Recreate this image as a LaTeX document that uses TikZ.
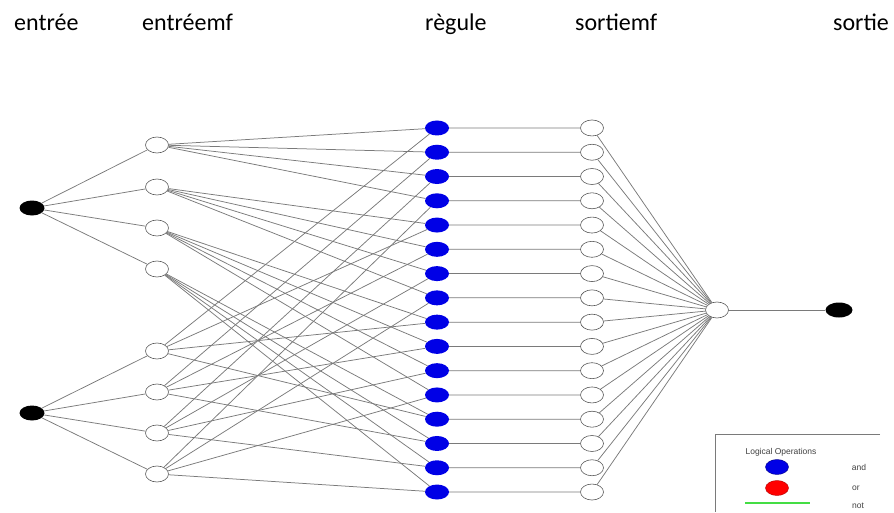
\documentclass[tikz,border=0pt]{standalone}
\usepackage{fontspec}
\setmainfont{Carlito}
\newfontfamily\legendfont{Liberation Sans}
\usetikzlibrary{shapes.geometric,backgrounds}
\definecolor{ruleBlue}{HTML}{0000E6}
\definecolor{linkGray}{HTML}{7A7A7A}
\definecolor{notGreen}{HTML}{44DD44}

\begin{document}
\begin{tikzpicture}[x=1pt,y=-1pt,
  neuron/.style={ellipse,draw=black!65,fill=white,line width=0.6pt,minimum width=23pt,minimum height=16pt,inner sep=0pt},
  inputnode/.style={ellipse,fill=black,minimum width=25pt,minimum height=15pt,inner sep=0pt},
  rulenode/.style={ellipse,fill=ruleBlue,minimum width=24pt,minimum height=15pt,inner sep=0pt},
  link/.style={draw=linkGray,line width=0.75pt},
  title/.style={font=\fontsize{24}{28}\selectfont,anchor=base west,inner sep=0pt},
  legendtext/.style={font=\legendfont\fontsize{8.5}{10}\selectfont,text=black!75,inner sep=0pt}]
  \useasboundingbox (0,0) rectangle (894,512);
  \node[title] (tIn) at (14,30) {entrée};
  \node[title] (tMf) at (142,30) {entréemf};
  \node[title] (tRule) at (425,30) {règule};
  \node[title] (tOmf) at (575,30) {sortiemf};
  \node[title] (tOut) at (833,30) {sortie};
  \node[inputnode] (in1) at (32,208) {};
  \node[inputnode] (in2) at (32,413) {};
  \foreach \i/\y in {1/145,2/187,3/228,4/269,5/351,6/392,7/433,8/474}
    \node[neuron] (mf\i) at (157,\y) {};
  \foreach \k in {1,...,16} {
    \node[rulenode] (r\k) at (437,103.7+24.27*\k) {};
    \node[neuron] (omf\k) at (592,103.7+24.27*\k) {};
  }
  \node[neuron] (agg) at (717,310) {};
  \node[inputnode,minimum width=27pt] (out) at (839,310) {};
  \begin{scope}[on background layer]
    \foreach \i in {1,...,4} {
      \pgfmathtruncatemacro\mfb{\i+4}
      \draw[link] (in1) -- (mf\i);
      \draw[link] (in2) -- (mf\mfb);
      \foreach \n in {1,...,4} {
        \pgfmathtruncatemacro\ka{4*(\i-1)+\n}
        \pgfmathtruncatemacro\kb{4*(\n-1)+\i}
        \draw[link] (mf\i) -- (r\ka);
        \draw[link] (mf\mfb) -- (r\kb);
      }
    }
    \foreach \k in {1,...,16} \draw[link] (r\k) -- (omf\k) -- (agg);
    \draw[link] (agg) -- (out);
  \end{scope}
  \draw[linkGray,line width=0.9pt] (880,434) -- (715,434) -- (715,512);
  \node[legendtext] (legTitle) at (781,452) {Logical Operations};
  \node[ellipse,fill=ruleBlue,draw=ruleBlue!60!black,minimum width=23pt,minimum height=15pt,inner sep=0pt] (legAnd) at (777,467) {};
  \node[ellipse,fill=red,draw=red!70!black,minimum width=23pt,minimum height=15pt,inner sep=0pt] (legOr) at (777,488) {};
  \coordinate (notA) at (745,503);
  \coordinate (notB) at (810,503);
  \draw[draw=notGreen,line width=1.4pt] (notA) -- (notB);
  \node[legendtext] (legAndTxt) at (859,467) {and};
  \node[legendtext] (legOrTxt) at (856,488) {or};
  \node[legendtext] (legNotTxt) at (858,506) {not};
\end{tikzpicture}
\end{document}
